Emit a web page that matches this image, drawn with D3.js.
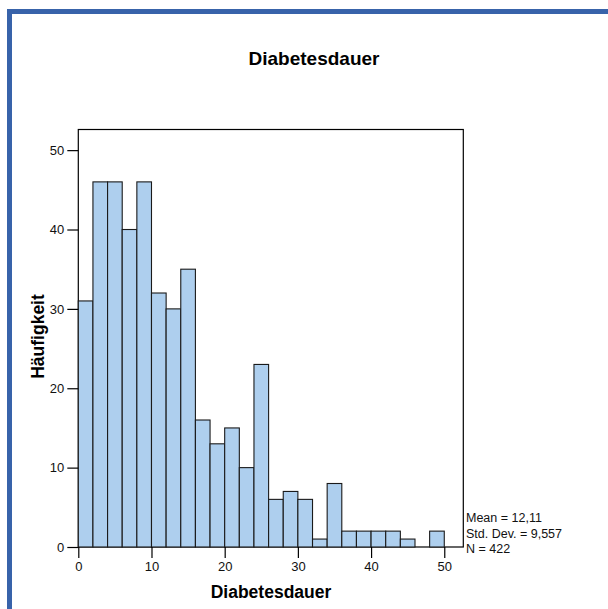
<!DOCTYPE html>
<html>
<head>
<meta charset="utf-8">
<script src="https://cdn.jsdelivr.net/npm/d3@7"></script>
<style>
  html, body { margin: 0; padding: 0; background: #fff; }
  svg { display: block; font-family: "Liberation Sans", Arial, sans-serif; }
</style>
</head>
<body>
<svg id="chart" width="608" height="609"></svg>
<script>
// ---- data ----
const binStarts = [0, 2, 4, 6, 8, 10, 12, 14, 16, 18, 20, 22, 24, 26, 28, 30, 32, 34, 36, 38, 40, 42, 44, 46, 48];
const binWidth = 2;
const counts = [31, 46, 46, 40, 46, 32, 30, 35, 16, 13, 15, 10, 23, 6, 7, 6, 1, 8, 2, 2, 2, 2, 1, 0, 2];
const xTicks = [0, 10, 20, 30, 40, 50];
const yTicks = [0, 10, 20, 30, 40, 50];
const statsLines = ["Mean = 12,11", "Std. Dev. = 9,557", "N = 422"];
const titleText = "Diabetesdauer";
const xTitle = "Diabetesdauer";
const yTitle = "Häufigkeit";

// ---- layout ----
const svg = d3.select("#chart");
const plot = { left: 78.3, right: 463.3, top: 129.5, bottom: 547 };

// blue frame
svg.append("rect").attr("x", 7).attr("y", 9).attr("width", 601).attr("height", 5).attr("fill", "#3863aa");
svg.append("rect").attr("x", 7).attr("y", 9).attr("width", 5).attr("height", 600).attr("fill", "#3863aa");

const x = d3.scaleLinear().domain([0, 52.6]).range([plot.left, plot.right]);
const y = d3.scaleLinear().domain([0, 52.6]).range([plot.bottom, plot.top]);

// plot frame
svg.append("rect")
  .attr("x", plot.left).attr("y", plot.top)
  .attr("width", plot.right - plot.left).attr("height", plot.bottom - plot.top)
  .attr("fill", "none").attr("stroke", "#000").attr("stroke-width", 1.2);

// bars
svg.append("g").selectAll("rect")
  .data(binStarts.map((s, i) => ({ s, c: counts[i] })).filter(d => d.c > 0))
  .join("rect")
  .attr("x", d => x(d.s))
  .attr("y", d => y(d.c))
  .attr("width", d => x(d.s + binWidth) - x(d.s))
  .attr("height", d => y(0) - y(d.c))
  .attr("fill", "#aecfee")
  .attr("stroke", "#1a1a1a")
  .attr("stroke-width", 1.1);

// axes
const xAxis = d3.axisBottom(x).tickValues(xTicks).tickSize(11).tickPadding(4).tickSizeOuter(0);
const gx = svg.append("g").attr("transform", `translate(0,${plot.bottom})`).call(xAxis);
gx.select(".domain").remove();
gx.selectAll("line").attr("stroke", "#000").attr("stroke-width", 1.2);
gx.selectAll("text").attr("font-size", 13).attr("fill", "#111").attr("font-family", "Liberation Sans, Arial, sans-serif");

const yAxis = d3.axisLeft(y).tickValues(yTicks).tickSize(11).tickPadding(3).tickSizeOuter(0);
const gy = svg.append("g").attr("transform", `translate(${plot.left},0)`).call(yAxis);
gy.select(".domain").remove();
gy.selectAll("line").attr("stroke", "#000").attr("stroke-width", 1.2);
gy.selectAll("text").attr("font-size", 13).attr("fill", "#111").attr("font-family", "Liberation Sans, Arial, sans-serif");

// titles
svg.append("text").attr("x", 314).attr("y", 65).attr("text-anchor", "middle")
  .attr("font-size", 19).attr("font-weight", "bold").attr("fill", "#000").text(titleText);
svg.append("text").attr("x", 271).attr("y", 598).attr("text-anchor", "middle")
  .attr("font-size", 17.5).attr("font-weight", "bold").attr("fill", "#000").text(xTitle);
svg.append("text").attr("transform", "translate(44,336.5) rotate(-90)").attr("text-anchor", "middle")
  .attr("font-size", 17.5).attr("font-weight", "bold").attr("fill", "#000").text(yTitle);

// stats
svg.append("g").selectAll("text").data(statsLines).join("text")
  .attr("x", 466).attr("y", (d, i) => 521.7 + i * 15.8)
  .attr("font-size", 12.5).attr("fill", "#111").text(d => d);
</script>
</body>
</html>
